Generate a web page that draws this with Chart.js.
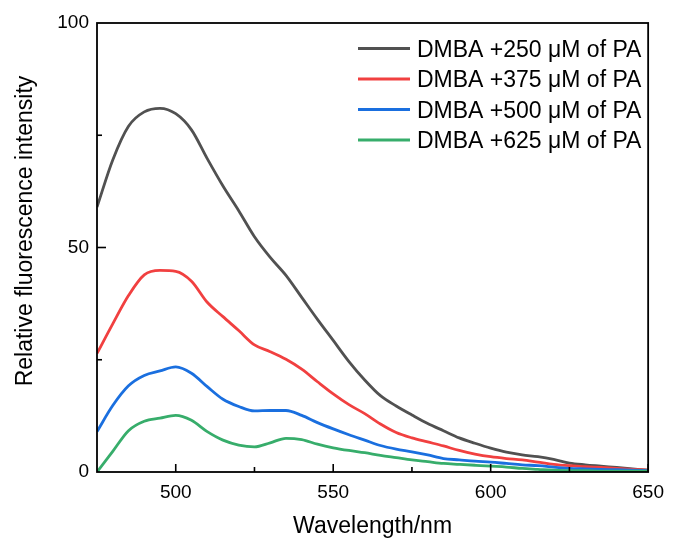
<!DOCTYPE html>
<html>
<head>
<meta charset="utf-8">
<script src="https://cdn.jsdelivr.net/npm/chart.js@4.4.0/dist/chart.umd.min.js"></script>
<style>
    html, body { margin: 0; padding: 0; background: #fff; }
    #wrap { width: 673px; height: 538px; }
</style>
</head>
<body>
<div id="wrap"><canvas id="spectraChart" width="673" height="538"></canvas></div>
<script>
const FONT = "'Liberation Sans', Arial, sans-serif";

// wavelength axis (nm)
const wavelengths = [475, 480, 485, 490, 495, 500, 505, 510, 515, 520, 525, 530, 535, 540, 545, 550,
    555, 560, 565, 570, 575, 580, 585, 590, 595, 600, 605, 610, 615, 620, 625, 630, 635, 640, 645, 650];

const pa250 = [59, 69.5, 77, 80.2, 81, 79.8, 76.2, 69.8, 63.7, 58.2, 52.4, 47.8, 43.8, 38.9, 34, 29.3,
    24.6, 20.5, 17, 14.7, 12.7, 10.8, 9.2, 7.6, 6.4, 5.3, 4.4, 3.8, 3.4, 2.8, 2.0, 1.6, 1.3, 1.0, 0.7, 0.4];
const pa375 = [26.4, 33, 39.3, 43.9, 44.9, 44.7, 42.5, 37.8, 34.6, 31.5, 28.3, 26.8, 25.1, 22.9, 20.1, 17.4,
    15, 13, 10.7, 8.8, 7.6, 6.7, 5.8, 4.8, 4.0, 3.4, 3.0, 2.7, 2.2, 1.7, 1.4, 1.2, 1.0, 0.8, 0.6, 0.4];
const pa500 = [9, 14.8, 19.2, 21.5, 22.5, 23.4, 22, 19, 16.2, 14.6, 13.6, 13.7, 13.7, 12.6, 11, 9.6,
    8.3, 7.1, 5.9, 5.1, 4.5, 3.8, 3.0, 2.7, 2.4, 2.2, 1.9, 1.6, 1.4, 1.1, 0.8, 0.7, 0.6, 0.5, 0.4, 0.3];
const pa625 = [0, 4.6, 9.2, 11.3, 12, 12.6, 11.5, 9.0, 7.1, 6.0, 5.6, 6.5, 7.5, 7.2, 6.2, 5.4,
    4.8, 4.3, 3.7, 3.2, 2.7, 2.3, 1.9, 1.7, 1.5, 1.3, 1.1, 0.8, 0.6, 0.4, 0.3, 0.3, 0.2, 0.2, 0.2, 0.2];

const seriesLabels = ['DMBA +250 \u03BCM of PA', 'DMBA +375 \u03BCM of PA', 'DMBA +500 \u03BCM of PA', 'DMBA +625 \u03BCM of PA'];
const seriesColors = ['#515151', '#F14040', '#1A6FDF', '#37AD6B'];
const seriesValues = [pa250, pa375, pa500, pa625];

const xMajorTicks = [500, 550, 600, 650];
const yMajorTicks = [0, 50, 100];
const xTitle = 'Wavelength/nm';
const yTitle = 'Relative fluorescence intensity';

function toPoints(values) {
    return wavelengths.map((w, i) => ({ x: w, y: values[i] }));
}

// frame, inward ticks, axis titles and legend
const framePlugin = {
    id: 'frame',
    afterDraw(chart) {
        const { ctx, chartArea: area, scales } = chart;
        ctx.save();
        ctx.strokeStyle = '#000';
        ctx.lineWidth = 1.6;

        scales.x.ticks.forEach(t => {
            if (t.value <= 475) return;
            const px = scales.x.getPixelForValue(t.value);
            const len = xMajorTicks.includes(t.value) ? 8 : 5;
            ctx.beginPath();
            ctx.moveTo(px, area.bottom);
            ctx.lineTo(px, area.bottom - len);
            ctx.stroke();
        });
        scales.y.ticks.forEach(t => {
            if (t.value <= 0 || t.value >= 100) return;
            const py = scales.y.getPixelForValue(t.value);
            const len = yMajorTicks.includes(t.value) ? 9 : 5;
            ctx.beginPath();
            ctx.moveTo(area.left, py);
            ctx.lineTo(area.left + len, py);
            ctx.stroke();
        });

        ctx.lineWidth = 1.8;
        ctx.strokeRect(area.left, area.top, area.right - area.left, area.bottom - area.top);

        // axis titles
        ctx.fillStyle = '#000';
        ctx.font = `23px ${FONT}`;
        ctx.textAlign = 'center';
        ctx.textBaseline = 'alphabetic';
        ctx.fillText(xTitle, (area.left + area.right) / 2, 533);
        ctx.save();
        ctx.translate(32, 231);
        ctx.rotate(-Math.PI / 2);
        ctx.fillText(yTitle, 0, 0);
        ctx.restore();

        // legend
        ctx.font = `23px ${FONT}`;
        ctx.textAlign = 'left';
        seriesLabels.forEach((label, i) => {
            const cy = 48.5 + i * 30.5;
            ctx.strokeStyle = seriesColors[i];
            ctx.lineWidth = 3;
            ctx.beginPath();
            ctx.moveTo(358, cy);
            ctx.lineTo(410, cy);
            ctx.stroke();
            ctx.fillStyle = '#000';
            ctx.fillText(label, 417, cy + 8.2);
        });
        ctx.restore();
    }
};

const datasets = seriesValues.map((values, i) => ({
    label: seriesLabels[i],
    data: toPoints(values),
    borderColor: seriesColors[i],
    backgroundColor: seriesColors[i],
    borderWidth: 2.8,
    pointRadius: 0,
    cubicInterpolationMode: 'monotone',
    order: seriesValues.length - i,
}));

new Chart(document.getElementById('spectraChart'), {
    type: 'line',
    data: { datasets },
    options: {
        responsive: false,
        animation: false,
        devicePixelRatio: 1,
        layout: { padding: { top: 23, right: 17, left: 0, bottom: 0 } },
        plugins: {
            legend: { display: false },
            tooltip: { enabled: false }
        },
        scales: {
            x: {
                type: 'linear',
                min: 475,
                max: 650,
                afterFit: scale => { scale.height = 66; },
                border: { display: false },
                grid: { display: false, drawTicks: false },
                ticks: {
                    stepSize: 25,
                    autoSkip: false,
                    maxRotation: 0,
                    padding: 9,
                    color: '#000',
                    font: { family: FONT, size: 19 },
                    callback: v => (xMajorTicks.includes(v) ? String(v) : '')
                }
            },
            y: {
                min: 0,
                max: 100,
                afterFit: scale => { scale.width = 97; },
                border: { display: false },
                grid: { display: false, drawTicks: false },
                ticks: {
                    stepSize: 25,
                    autoSkip: false,
                    padding: 8,
                    color: '#000',
                    font: { family: FONT, size: 19 },
                    callback: v => (yMajorTicks.includes(v) ? String(v) : '')
                }
            }
        }
    },
    plugins: [framePlugin]
});
</script>
</body>
</html>
